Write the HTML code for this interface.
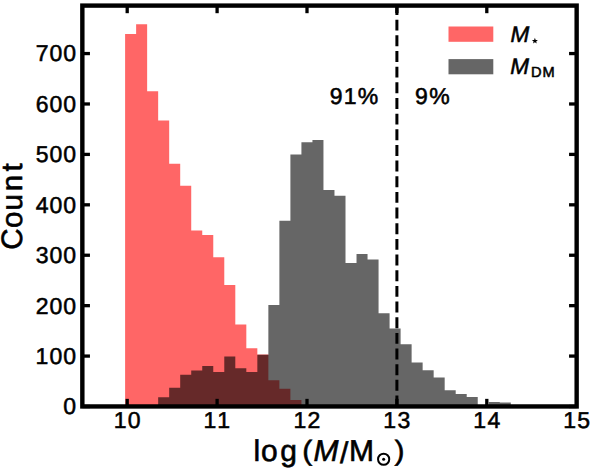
<!DOCTYPE html>
<html><head><meta charset="utf-8"><style>
html,body{margin:0;padding:0;background:#fff;width:590px;height:470px;overflow:hidden}
svg{display:block}
text{font-family:"Liberation Sans",sans-serif;fill:#000;text-rendering:geometricPrecision}
</style></head><body>
<svg width="590" height="470" viewBox="0 0 590 470">
<rect width="590" height="470" fill="#fff"/>
<path d="M125.10 406.45V34.10H136.12V406.45ZM136.12 406.45V24.15H147.14V406.45ZM147.14 406.45V91.30H158.16V406.45ZM158.16 406.45V120.50H169.18V406.45ZM169.18 406.45V163.70H180.20V406.45ZM180.20 406.45V185.70H191.22V406.45ZM191.22 406.45V230.50H202.24V406.45ZM202.24 406.45V235.10H213.26V406.45ZM213.26 406.45V257.30H224.28V406.45ZM224.28 406.45V285.00H235.30V406.45ZM235.30 406.45V324.50H246.32V406.45ZM246.32 406.45V348.20H257.34V406.45ZM257.34 406.45V354.40H268.36V406.45ZM268.36 406.45V380.20H279.38V406.45ZM279.38 406.45V388.70H290.40V406.45ZM290.40 406.45V399.90H301.42V406.45Z" fill="#ff0000" fill-opacity="0.6"/>
<path d="M158.16 406.45V397.20H169.18V406.45ZM169.18 406.45V387.70H180.20V406.45ZM180.20 406.45V374.80H191.22V406.45ZM191.22 406.45V370.60H202.24V406.45ZM202.24 406.45V366.10H213.26V406.45ZM213.26 406.45V371.90H224.28V406.45ZM224.28 406.45V356.60H235.30V406.45ZM235.30 406.45V368.20H246.32V406.45ZM246.32 406.45V371.90H257.34V406.45ZM257.34 406.45V354.70H268.36V406.45ZM268.36 406.45V304.90H279.38V406.45ZM279.38 406.45V220.70H290.40V406.45ZM290.40 406.45V154.50H301.42V406.45ZM301.42 406.45V142.30H312.44V406.45ZM312.44 406.45V140.10H323.46V406.45ZM323.46 406.45V190.00H334.48V406.45ZM334.48 406.45V195.70H345.50V406.45ZM345.50 406.45V263.00H356.52V406.45ZM356.52 406.45V254.10H367.54V406.45ZM367.54 406.45V259.60H378.56V406.45ZM378.56 406.45V313.30H389.58V406.45ZM389.58 406.45V328.40H400.60V406.45ZM400.60 406.45V344.30H411.62V406.45ZM411.62 406.45V362.50H422.64V406.45ZM422.64 406.45V370.30H433.66V406.45ZM433.66 406.45V377.50H444.68V406.45ZM444.68 406.45V390.20H455.70V406.45ZM455.70 406.45V394.10H466.72V406.45ZM466.72 406.45V397.10H477.74V406.45ZM488.76 406.45V402.00H499.78V406.45ZM499.78 406.45V402.50H510.80V406.45Z" fill="#000" fill-opacity="0.6"/>
<line x1="396.90" y1="406.45" x2="396.90" y2="5.60" stroke="#000" stroke-width="3.0" stroke-dasharray="10.93 4.73"/>
<g stroke="#000" stroke-width="3.3">
<line x1="127.20" y1="406.45" x2="127.20" y2="398.85"/>
<line x1="127.20" y1="5.60" x2="127.20" y2="13.20"/>
<line x1="217.10" y1="406.45" x2="217.10" y2="398.85"/>
<line x1="217.10" y1="5.60" x2="217.10" y2="13.20"/>
<line x1="307.00" y1="406.45" x2="307.00" y2="398.85"/>
<line x1="307.00" y1="5.60" x2="307.00" y2="13.20"/>
<line x1="396.90" y1="406.45" x2="396.90" y2="398.85"/>
<line x1="396.90" y1="5.60" x2="396.90" y2="13.20"/>
<line x1="486.80" y1="406.45" x2="486.80" y2="398.85"/>
<line x1="486.80" y1="5.60" x2="486.80" y2="13.20"/>
<line x1="82.35" y1="406.50" x2="89.95" y2="406.50"/>
<line x1="576.65" y1="406.50" x2="569.05" y2="406.50"/>
<line x1="82.35" y1="356.08" x2="89.95" y2="356.08"/>
<line x1="576.65" y1="356.08" x2="569.05" y2="356.08"/>
<line x1="82.35" y1="305.66" x2="89.95" y2="305.66"/>
<line x1="576.65" y1="305.66" x2="569.05" y2="305.66"/>
<line x1="82.35" y1="255.24" x2="89.95" y2="255.24"/>
<line x1="576.65" y1="255.24" x2="569.05" y2="255.24"/>
<line x1="82.35" y1="204.82" x2="89.95" y2="204.82"/>
<line x1="576.65" y1="204.82" x2="569.05" y2="204.82"/>
<line x1="82.35" y1="154.40" x2="89.95" y2="154.40"/>
<line x1="576.65" y1="154.40" x2="569.05" y2="154.40"/>
<line x1="82.35" y1="103.98" x2="89.95" y2="103.98"/>
<line x1="576.65" y1="103.98" x2="569.05" y2="103.98"/>
<line x1="82.35" y1="53.56" x2="89.95" y2="53.56"/>
<line x1="576.65" y1="53.56" x2="569.05" y2="53.56"/>
</g>
<rect x="82.35" y="5.60" width="494.30" height="400.85" fill="none" stroke="#000" stroke-width="4.4"/>
<g stroke="#000" stroke-width="0.55">
<text x="63.32" y="414.40" font-size="23">0</text>
<text x="35.43 49.52 63.32" y="363.98" font-size="23">100</text>
<text x="35.72 49.52 63.32" y="313.56" font-size="23">200</text>
<text x="35.77 49.52 63.32" y="263.14" font-size="23">300</text>
<text x="35.77 49.52 63.32" y="212.72" font-size="23">400</text>
<text x="35.72 49.52 63.32" y="162.30" font-size="23">500</text>
<text x="35.66 49.52 63.32" y="111.88" font-size="23">600</text>
<text x="35.72 49.52 63.32" y="61.46" font-size="23">700</text>
<text x="113.63 127.72" y="428.20" font-size="23">10</text>
<text x="203.53 217.33" y="428.20" font-size="23">11</text>
<text x="293.43 307.52" y="428.20" font-size="23">12</text>
<text x="383.33 397.48" y="428.20" font-size="23">13</text>
<text x="473.23 487.38" y="428.20" font-size="23">14</text>
<text x="563.13 577.22" y="428.20" font-size="23">15</text>
<text x="329.82 343.83 357.66" y="103.70" font-size="23">91%</text>
<text x="415.12 429.16" y="103.70" font-size="23">9%</text>
<text x="510.47" y="42.20" font-size="22.5" font-style="italic">M</text>
<text x="510.27" y="74.10" font-size="22.5" font-style="italic">M</text>
<text x="530.89 542.54" y="76.60" font-size="14.6">DM</text>
</g>
<g stroke="#000" stroke-width="0.6">
<text transform="rotate(-90)" x="-249.67 -228.09 -210.39 -191.29 -171.50" y="22.0" font-size="29.5">Count</text>
<text x="253.45 261.03 280.30" y="461.10" font-size="30">log</text>
<text x="313.52" y="461.10" font-size="30" font-style="italic">M</text>
<text x="340.07" y="462.50" font-size="30">/</text>
<text x="348.90" y="461.10" font-size="30">M</text>
<text transform="translate(308.10,459.5) scale(1,0.935)" x="-5.78" y="0" font-size="30">(</text>
<text transform="translate(398.65,459.5) scale(1,0.935)" x="-4.20" y="0" font-size="30">)</text>
</g>
<circle cx="383.65" cy="459.25" r="5.6" fill="none" stroke="#000" stroke-width="2.0"/>
<circle cx="383.65" cy="459.25" r="1.5" fill="#000"/>
<rect x="448.5" y="26.5" width="44.8" height="15.3" fill="#ff0000" fill-opacity="0.6"/>
<rect x="448.5" y="59.1" width="44.8" height="15.2" fill="#000" fill-opacity="0.6"/>
<polygon points="534.90,37.85 535.69,39.91 537.90,40.03 536.18,41.42 536.75,43.55 534.90,42.35 533.05,43.55 533.62,41.42 531.90,40.03 534.11,39.91" fill="#000"/>
</svg>
</body></html>
